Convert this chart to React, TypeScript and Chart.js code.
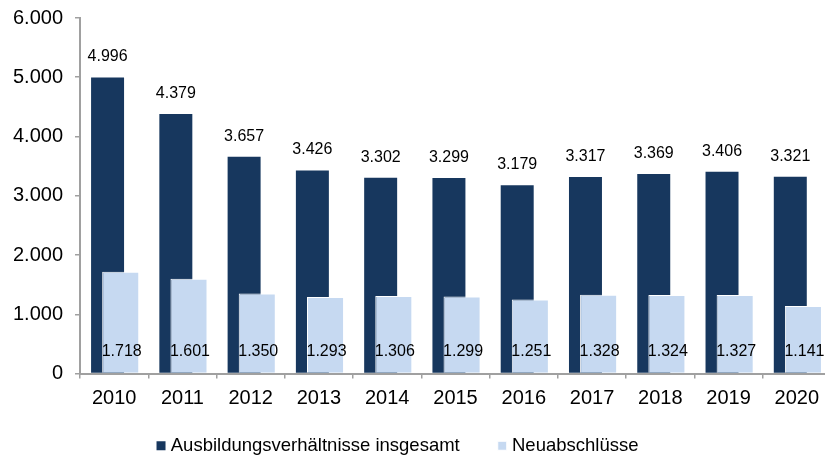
import { useEffect, useRef } from 'react';
import { Chart, registerables } from 'chart.js';

Chart.register(...registerables);

const years = ['2010', '2011', '2012', '2013', '2014', '2015', '2016', '2017', '2018', '2019', '2020'];
const totalValues = [4996, 4379, 3657, 3426, 3302, 3299, 3179, 3317, 3369, 3406, 3321];
const newValues = [1718, 1601, 1350, 1293, 1306, 1299, 1251, 1328, 1324, 1327, 1141];
const seriesNames = ['Ausbildungsverhältnisse insgesamt', 'Neuabschlüsse'];
const yMin = 0;
const yMax = 6000;
const yStep = 1000;

const FONT = '"Liberation Sans", Arial, sans-serif';
const DARK = '#17375E';
const LIGHT = '#C6D9F1';
const AXIS = '#A0A0A0';

const fmt = (v: number) => String(Math.round(v)).replace(/\B(?=(\d{3})+(?!\d))/g, '.');

const drawOrderPlugin = {
  id: 'drawOrder',
  beforeDatasetsDraw(chart: any) {
    chart.getDatasetMeta(0).controller.draw();
  },
  beforeDatasetDraw(_chart: any, args: any) {
    if (args.index === 0) return false;
    return true;
  },
};

const legendShiftPlugin = {
  id: 'legendShift',
  afterLayout(chart: any) {
    const l = chart.legend;
    if (l) {
      l.top -= 13;
      l.bottom -= 13;
    }
  },
};

const labelPlugin = {
  id: 'valueLabels',
  afterDatasetsDraw(chart: any) {
    const ctx = chart.ctx;
    ctx.save();
    ctx.font = `16px ${FONT}`;
    ctx.fillStyle = '#000';
    ctx.textAlign = 'center';
    ctx.textBaseline = 'middle';
    chart.getDatasetMeta(0).data.forEach((bar: any, i: number) => {
      ctx.fillText(fmt(totalValues[i]), bar.x, bar.y - 20.5);
    });
    chart.getDatasetMeta(1).data.forEach((bar: any, i: number) => {
      ctx.fillText(fmt(newValues[i]), bar.x + 1, bar.base - 21);
    });
    ctx.restore();
  },
};

export default function App() {
  const ref = useRef<HTMLCanvasElement>(null);

  useEffect(() => {
    if (!ref.current) return;
    const chart = new Chart(ref.current, {
      type: 'bar',
      data: {
        labels: years,
        datasets: [
          {
            label: seriesNames[0],
            data: totalValues,
            backgroundColor: DARK,
            borderWidth: 0,
            categoryPercentage: 0.385,
            barPercentage: 2.51,
          },
          {
            label: seriesNames[1],
            data: newValues,
            backgroundColor: LIGHT,
            borderColor: '#FFFFFF',
            borderWidth: 1,
            categoryPercentage: 0.385,
            barPercentage: 2.82,
          },
        ],
      },
      options: {
        responsive: false,
        maintainAspectRatio: false,
        animation: false,
        layout: { padding: { top: 18, left: 0, right: 0, bottom: 0 } },
        plugins: {
          tooltip: { enabled: false },
          legend: {
            position: 'bottom',
            labels: {
              usePointStyle: true,
              pointStyle: 'rect',
              boxWidth: 1,
              boxHeight: 9,
              padding: 42,
              color: '#000',
              font: { family: FONT, size: 18.5 },
            },
          },
        },
        scales: {
          x: {
            offset: true,
            grid: {
              display: true,
              drawOnChartArea: false,
              drawTicks: true,
              tickLength: 5,
              color: AXIS,
              lineWidth: 1.5,
              offset: true,
            },
            border: { display: true, color: AXIS, width: 2 },
            ticks: { color: '#000', font: { family: FONT, size: 20 }, padding: 8 },
            afterFit: (s: any) => {
              s.height = 34;
              s.paddingLeft = 0;
              s.paddingRight = 0;
            },
          },
          y: {
            min: yMin,
            max: yMax,
            grid: {
              display: true,
              drawOnChartArea: false,
              drawTicks: true,
              tickLength: 5,
              color: AXIS,
              lineWidth: 1.5,
            },
            border: { display: true, color: AXIS, width: 2 },
            ticks: {
              stepSize: yStep,
              color: '#000',
              font: { family: FONT, size: 20 },
              padding: 12,
              callback: (v: any) => fmt(Number(v)),
            },
            afterFit: (s: any) => {
              s.width = 112;
              s.paddingTop = 0;
              s.paddingBottom = 0;
            },
          },
        },
      },
      plugins: [drawOrderPlugin, legendShiftPlugin, labelPlugin],
    });
    return () => chart.destroy();
  }, []);

  return (
    <div style={{ position: 'fixed', left: 0, top: 0, width: 825, height: 456, overflow: 'hidden', background: '#fff' }}>
      <canvas ref={ref} width={863} height={478} style={{ position: 'absolute', left: -32, top: 0 }} />
    </div>
  );
}
